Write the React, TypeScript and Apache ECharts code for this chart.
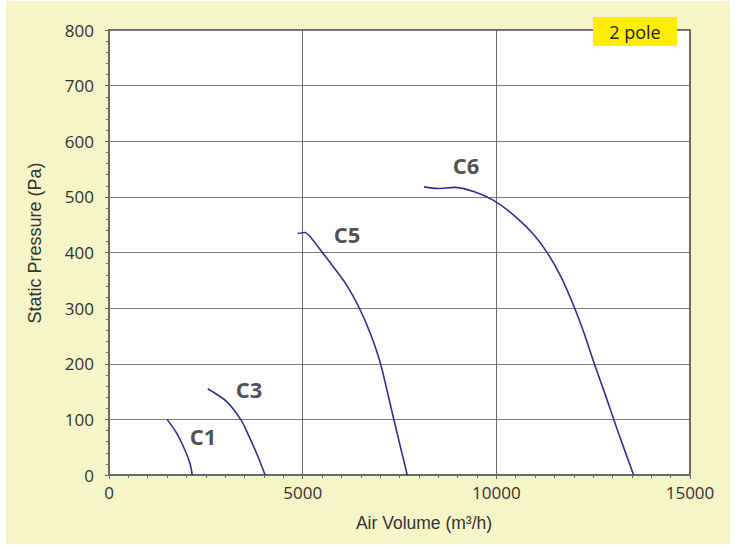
import React, { useEffect, useRef } from "react";
import * as echarts from "echarts";

const xTicks = [0, 5000, 10000, 15000];
const yTicks = [0, 100, 200, 300, 400, 500, 600, 700, 800];

const c1: [number, number][] = [[1500, 100], [1750, 75], [1960, 45], [2090, 21], [2150, 0]];
const c3: [number, number][] = [[2550, 155], [3040, 132], [3400, 100], [3560, 78], [3810, 39], [4030, 0]];
const c5: [number, number][] = [
  [4870, 434], [5060, 436], [5200, 428], [5500, 401], [5760, 377], [6110, 344],
  [6450, 302], [6750, 254], [7010, 200], [7360, 98], [7700, 0],
];
const c6: [number, number][] = [
  [8130, 518], [8480, 515], [8910, 517], [9430, 509], [9990, 491], [10550, 461],
  [10980, 431], [11330, 398], [11670, 356], [12010, 302], [12270, 254], [12530, 200],
  [12790, 149], [13040, 98], [13300, 47], [13545, 0],
];
const curveNames = ["C1", "C3", "C5", "C6"];
const labelPos: [number, number][] = [[2430, 70], [3615, 155], [6145, 433], [9220, 557]];

const lineColor = "#2e3192";
const font = "'Open Sans', 'Noto Sans', sans-serif";
const sansFont = "'Liberation Sans', Arial, sans-serif";

export default function App() {
  const ref = useRef<HTMLDivElement>(null);
  useEffect(() => {
    document.body.style.margin = "0";
    const chart = echarts.init(ref.current!, undefined, { renderer: "svg" });
    const curves = [c1, c3, c5, c6];
    chart.setOption({
      animation: false,
      backgroundColor: "#ffffff",
      graphic: [
        { type: "rect", z: -10, shape: { x: 6, y: 1, width: 724, height: 543 }, style: { fill: "#f5f5c7" } },
        {
          type: "text", x: 424, y: 523, z: 10,
          style: { text: "Air Volume (m³/h)", fontSize: 17.5, fontFamily: sansFont, fill: "#333", align: "center", verticalAlign: "middle" },
        },
        {
          type: "text", x: 35, y: 243, rotation: Math.PI / 2, z: 10,
          style: { text: "Static Pressure (Pa)", fontSize: 18, fontFamily: sansFont, fill: "#333", align: "center", verticalAlign: "middle" },
        },
        { type: "rect", z: 20, shape: { x: 593, y: 17, width: 84, height: 29 }, style: { fill: "#ffee00" } },
        {
          type: "text", x: 635, y: 31.5, z: 21,
          style: { text: "2 pole", fontSize: 18, fontFamily: font, fill: "#222", align: "center", verticalAlign: "middle" },
        },
      ],
      grid: {
        left: 109, top: 30, width: 581, height: 445,
        show: true, backgroundColor: "#ffffff", borderColor: "#6a6a6a", borderWidth: 2,
      },
      xAxis: {
        type: "value", min: xTicks[0], max: xTicks[xTicks.length - 1], interval: 5000,
        axisLine: { show: true, onZero: false, lineStyle: { color: "#6a6a6a", width: 2 } },
        axisTick: { show: true, length: 4, lineStyle: { color: "#6a6a6a" } },
        minorTick: { show: true, splitNumber: 10, length: 3, lineStyle: { color: "#6a6a6a" } },
        splitLine: { show: true, lineStyle: { color: "#6a6a6a", width: 1 } },
        axisLabel: { fontSize: 17, fontFamily: font, color: "#333", margin: 9, formatter: (v: number) => String(v) },
      },
      yAxis: {
        type: "value", min: yTicks[0], max: yTicks[yTicks.length - 1], interval: 100,
        axisLine: { show: true, onZero: false, lineStyle: { color: "#6a6a6a", width: 2 } },
        axisTick: { show: true, length: 4, lineStyle: { color: "#6a6a6a" } },
        minorTick: { show: true, splitNumber: 5, length: 3, lineStyle: { color: "#6a6a6a" } },
        splitLine: { show: true, lineStyle: { color: "#7f7f7f", width: 1 } },
        axisLabel: { fontSize: 17, fontFamily: font, color: "#333", margin: 15, formatter: (v: number) => String(v) },
      },
      series: [
        ...curves.map((d, i) => ({
          type: "line", name: curveNames[i], data: d, showSymbol: false, smooth: 0.25,
          lineStyle: { color: lineColor, width: 1.6 }, z: 5,
        })),
        {
          type: "scatter", symbolSize: 0, z: 6,
          data: curveNames.map((n, i) => ({ name: n, value: labelPos[i] })),
          label: {
            show: true, position: "inside", formatter: "{b}",
            fontSize: 22, fontWeight: "bold", fontFamily: font, color: "#222",
          },
        },
      ],
    });
    return () => chart.dispose();
  }, []);
  return <div ref={ref} style={{ width: 736, height: 547 }} />;
}
